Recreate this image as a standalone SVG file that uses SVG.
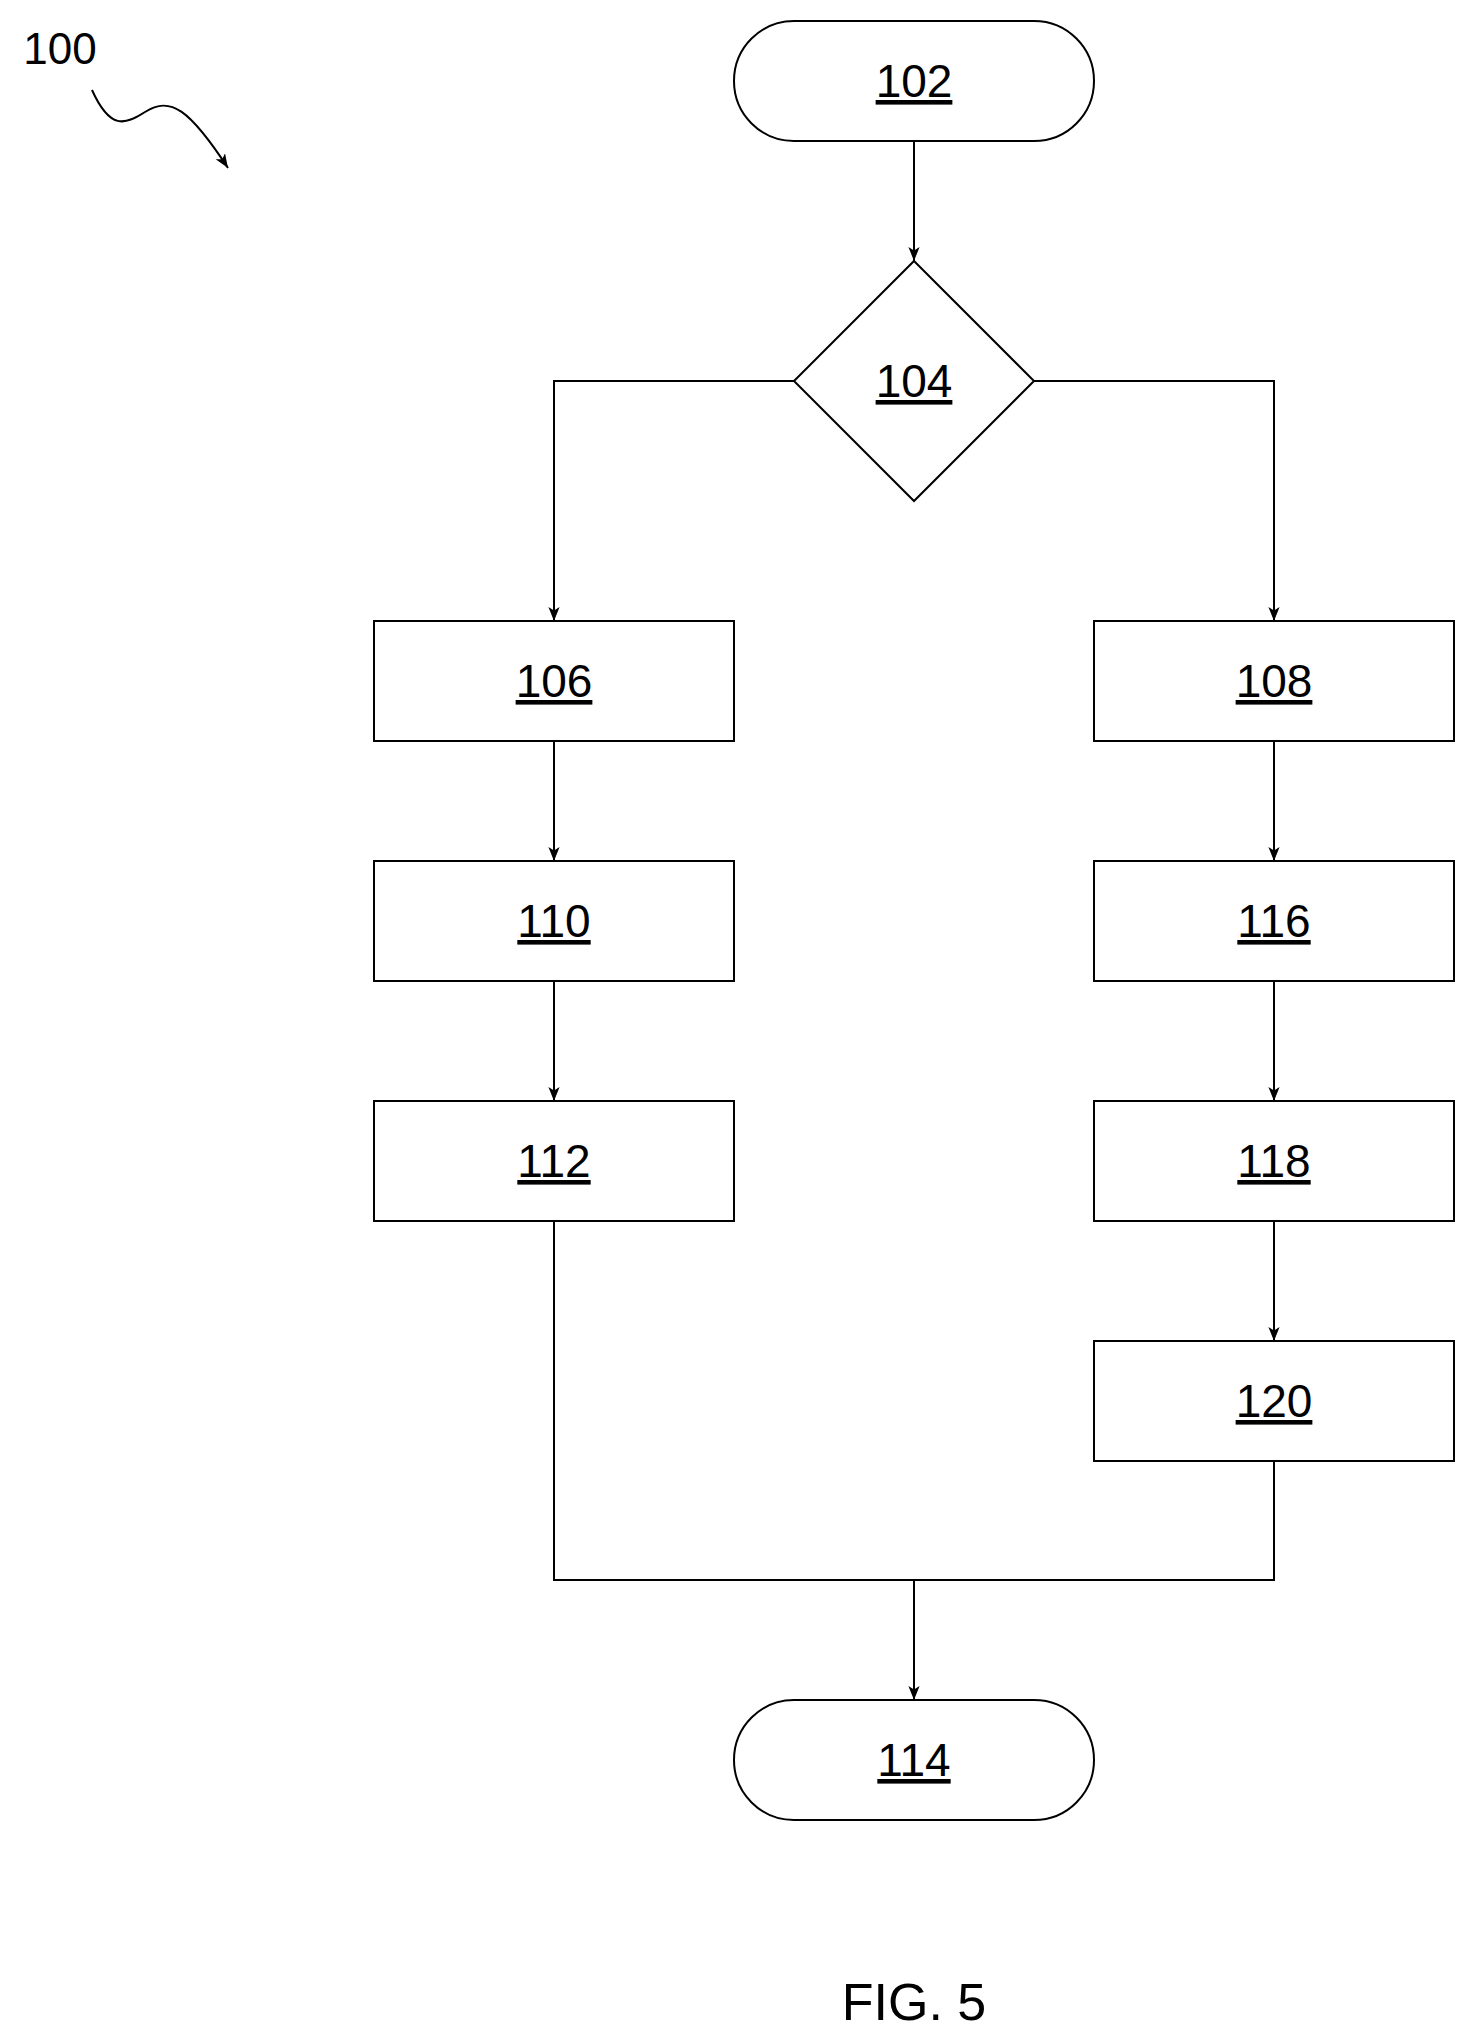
<svg xmlns="http://www.w3.org/2000/svg" width="1475" height="2043" viewBox="0 0 1475 2043">
<style>
.s{fill:#fff;stroke:#000;stroke-width:2}
.t{font-family:"Liberation Sans",Arial,sans-serif;font-size:46px;text-anchor:middle;text-decoration:underline}
.c{fill:none;stroke:#000;stroke-width:2}
</style>
<defs><marker id="a" markerWidth="12" markerHeight="14" refX="6" refY="14" orient="auto-start-reverse" markerUnits="userSpaceOnUse" viewBox="0 0 12 14"><path d="M0,0 L12,0 L6,14 Z" fill="#000" transform="rotate(0)"/></marker>
<marker id="m" markerWidth="14" markerHeight="20" refX="20" refY="10" orient="auto" markerUnits="userSpaceOnUse" viewBox="0 0 20 20"><path d="M0,2 L20,10 L0,18 L5,10 Z" fill="#000"/></marker></defs>
<rect width="1475" height="2043" fill="#fff"/>
<text x="60" y="64" font-family="Liberation Sans,Arial,sans-serif" font-size="44" text-anchor="middle">100</text>
<path class="c" d="M92,90 C110,130 125,125 145,112 C170,95 190,110 228,168" marker-end="url(#m)"/>
<g id="connectors">
<path class="c" d="M914,141 V261" marker-end="url(#m)"/>
<path class="c" d="M794,381 H554 V621" marker-end="url(#m)"/>
<path class="c" d="M1034,381 H1274 V621" marker-end="url(#m)"/>
<path class="c" d="M554,741 V861" marker-end="url(#m)"/>
<path class="c" d="M554,981 V1101" marker-end="url(#m)"/>
<path class="c" d="M1274,741 V861" marker-end="url(#m)"/>
<path class="c" d="M1274,981 V1101" marker-end="url(#m)"/>
<path class="c" d="M1274,1221 V1341" marker-end="url(#m)"/>
<path class="c" d="M554,1221 V1580 H1274 V1461"/>
<path class="c" d="M914,1580 V1700" marker-end="url(#m)"/>
</g>
<g id="n102"><rect class="s" x="734" y="21" width="360" height="120" rx="60"/><text class="t" x="914" y="97">102</text></g>
<g id="n104"><path class="s" d="M914,261 L1034,381 L914,501 L794,381 Z"/><text class="t" x="914" y="397">104</text></g>
<g id="n106"><rect class="s" x="374" y="621" width="360" height="120"/><text class="t" x="554" y="697">106</text></g>
<g id="n110"><rect class="s" x="374" y="861" width="360" height="120"/><text class="t" x="554" y="937">110</text></g>
<g id="n112"><rect class="s" x="374" y="1101" width="360" height="120"/><text class="t" x="554" y="1177">112</text></g>
<g id="n108"><rect class="s" x="1094" y="621" width="360" height="120"/><text class="t" x="1274" y="697">108</text></g>
<g id="n116"><rect class="s" x="1094" y="861" width="360" height="120"/><text class="t" x="1274" y="937">116</text></g>
<g id="n118"><rect class="s" x="1094" y="1101" width="360" height="120"/><text class="t" x="1274" y="1177">118</text></g>
<g id="n120"><rect class="s" x="1094" y="1341" width="360" height="120"/><text class="t" x="1274" y="1417">120</text></g>
<g id="n114"><rect class="s" x="734" y="1700" width="360" height="120" rx="60"/><text class="t" x="914" y="1776">114</text></g>
<text x="914" y="2020" font-family="Liberation Sans,Arial,sans-serif" font-size="52" text-anchor="middle">FIG. 5</text>
</svg>
